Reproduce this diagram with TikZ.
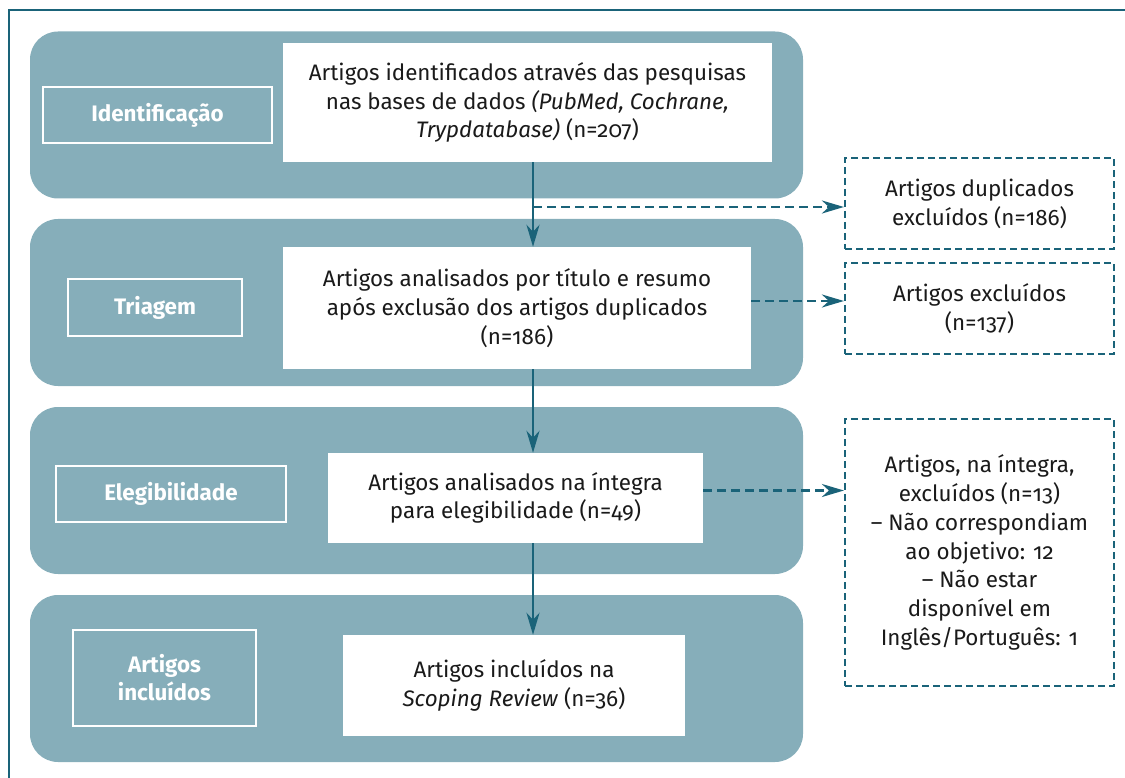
\documentclass[tikz,border=0pt]{standalone}
\usepackage{fontspec}
\setmainfont{Fira Sans}[RawFeature=+onum]
\usetikzlibrary{arrows.meta}
\definecolor{panel}{HTML}{86AEBA}
\definecolor{darkteal}{HTML}{1A6379}
\definecolor{ink}{HTML}{1A1A1A}
\begin{document}
\begin{tikzpicture}[x=1pt,y=-1pt,
  every node/.style={font=\fontsize{22.4}{28.8}\selectfont},
  panelbox/.style={fill=panel, rounded corners=28pt, inner sep=0pt, minimum width=773pt, minimum height=167pt},
  stagebox/.style={draw=white, line width=2pt, text=white, font=\fontsize{22.4}{28}\selectfont\bfseries, align=center, inner sep=0pt},
  mainbox/.style={fill=white, text=ink, align=center, inner sep=0pt},
  sidebox/.style={draw=darkteal, dash pattern=on 7pt off 4pt, line width=2.2pt, text=ink, align=center, inner sep=0pt, minimum width=269pt},
  flow/.style={draw=darkteal, line width=2.6pt, -{Stealth[length=22pt,width=13pt,inset=7pt]}},
  sideflow/.style={flow, dash pattern=on 9pt off 5pt}
]
\useasboundingbox (0,0) rectangle (1125,778);
\draw[darkteal, line width=2.5pt] (1125,10) -- (9,10) -- (9,778);

% panels
\node[panelbox] (p1) at (416.5,115) {};
\node[panelbox] (p2) at (416.5,302.5) {};
\node[panelbox] (p3) at (416.5,490.5) {};
\node[panelbox] (p4) at (416.5,678.5) {};

% stage labels
\node[stagebox, minimum width=229pt, minimum height=56pt] (l1) at (157.5,115) {Identificação};
\node[stagebox, minimum width=174pt, minimum height=57pt] (l2) at (155,307.5) {Triagem};
\node[stagebox, minimum width=230pt, minimum height=56pt] (l3) at (171,494) {Elegibilidade};
\node[stagebox, minimum width=183pt, minimum height=96pt] (l4) at (164.5,678) {Artigos\\incluídos};

% main boxes
\node[mainbox, minimum width=489pt, minimum height=119pt] (b1) at (527.5,102.5)
  {Artigos identificados através das pesquisas\\nas bases de dados \textit{(PubMed, Cochrane,}\\\textit{Trypdatabase)} (n=207)};
\node[mainbox, minimum width=468pt, minimum height=122pt] (b2) at (517,308)
  {Artigos analisados por título e resumo\\após exclusão dos artigos duplicados\\(n=186)};
\node[mainbox, minimum width=375pt, minimum height=90pt] (b3) at (515.5,498)
  {Artigos analisados na íntegra\\para elegibilidade (n=49)};
\node[mainbox, minimum width=342pt, minimum height=101pt] (b4) at (514,685.5)
  {Artigos incluídos na\\\textit{Scoping Review} (n=36)};

% side boxes
\node[sidebox, minimum height=91pt] (s1) at (979.5,203.5) {Artigos duplicados\\excluídos (n=186)};
\node[sidebox, minimum height=91pt] (s2) at (979.5,308.5) {Artigos excluídos\\(n=137)};
\node[sidebox, minimum height=267pt] (s3) at (979.5,552.5)
  {Artigos, na íntegra,\\excluídos (n=13)\\– Não correspondiam\\ao objetivo: 12\\– Não estar\\disponível em\\Inglês/Português: 1};

% helper coordinates
\coordinate (spine) at (533,0);
\coordinate (j1) at (533,207);
\coordinate (r2) at (751,301);
\coordinate (r3) at (703,490.5);

% connectors
\draw[flow] (b1.south -| spine) -- (b2.north -| spine);
\draw[flow] (b2.south -| spine) -- (b3.north -| spine);
\draw[flow] (b3.south -| spine) -- (b4.north -| spine);
\draw[sideflow] (j1) -- (j1 -| s1.west);
\draw[sideflow] (r2) -- (r2 -| s2.west);
\draw[sideflow] (r3) -- (r3 -| s3.west);
\end{tikzpicture}
\end{document}
